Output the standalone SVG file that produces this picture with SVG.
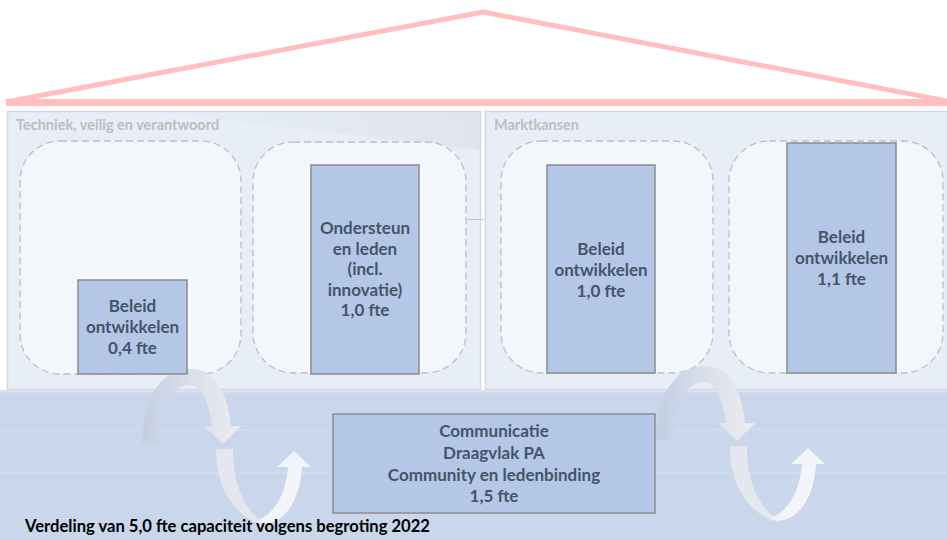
<svg xmlns="http://www.w3.org/2000/svg" width="947" height="539" viewBox="0 0 947 539">
<style>
  text { font-family: Lato, "Liberation Sans", sans-serif; font-weight: bold; }
  .lbl { font-size: 17px; fill: #44546A; text-anchor: middle; }
  .ttl { font-size: 14.5px; fill: #BDBDBD; }
  .panel { fill: #E8EEF8; stroke: #D2D9E4; stroke-width: 1.5; }
  .slot { fill: #F3F6FB; stroke: #BFBFBF; stroke-width: 1.3; stroke-dasharray: 7 4; }
  .box { fill: #B4C7E7; stroke: #8C8C8C; stroke-width: 1.5; }
  .roof { fill: none; stroke: #FFBFBF; }
</style>
<defs>
  <linearGradient id="gArc" x1="0" y1="0" x2="1" y2="0">
    <stop offset="0" stop-color="#C3CEE2"/>
    <stop offset="0.55" stop-color="#DCE1EA"/>
    <stop offset="1" stop-color="#EBECEF"/>
  </linearGradient>
  <linearGradient id="gShade" x1="0" y1="0" x2="1" y2="0">
    <stop offset="0" stop-color="#D8DDE5" stop-opacity="0"/>
    <stop offset="1" stop-color="#D8DDE5" stop-opacity="0.55"/>
  </linearGradient>
  <g id="arrowPair">
    <path fill="url(#gArc)" d="M142,443 C142,400 160,369 191,369 C216,369 228,395 231,426 L241,426 L223,444 L204,426 L212,426 C209,402 201,385 190,385 C172,385 159,410 159,443 Z"/>
    <path fill="#E4E7EE" d="M216,449 L233,449 C233,488 246,512 265,523 L258,524 C233,512 216,488 216,449 Z"/>
    <path fill="#F3F5FA" d="M256,521 C276,514 286,492 288,467 L277,467 L294,451 L311,467 L302,467 C300,500 286,522 264,524 Z"/>
  </g>
</defs>
<rect x="0" y="0" width="947" height="539" fill="#FFFFFF"/>

<g id="roof">
  <polyline class="roof" stroke-width="5" points="6,102 483,12 952,102"/>
  <line class="roof" stroke-width="7" x1="6" y1="102.5" x2="947" y2="102.5"/>
</g>

<g id="band">
  <rect x="0" y="391" width="947" height="148" fill="#C9D6EC"/>
  <rect x="0" y="390" width="947" height="2.5" fill="#DCE1EA"/>
  <line x1="0" y1="430" x2="947" y2="430" stroke="#D3DDEF" stroke-width="1.5"/>
  <line x1="0" y1="473" x2="947" y2="473" stroke="#D3DDEF" stroke-width="1.5"/>
</g>

<g id="panel-techniek">
  <rect class="panel" x="7.5" y="111.5" width="473" height="278"/>
  <polygon points="150,112 480,112 480,150" fill="url(#gShade)"/>
  <text class="ttl" x="16" y="130">Techniek, veilig en verantwoord</text>
</g>
<g id="panel-marktkansen">
  <rect class="panel" x="485.5" y="111.5" width="462" height="278"/>
  <text class="ttl" x="494" y="130">Marktkansen</text>
</g>
<line x1="467" y1="219.5" x2="486" y2="219.5" stroke="#B9C8E0" stroke-width="1"/>

<g id="slots">
  <rect class="slot" x="20" y="141" width="221" height="233" rx="40"/>
  <rect class="slot" x="253" y="142" width="213" height="231" rx="40"/>
  <rect class="slot" x="501" y="141" width="212" height="232" rx="40"/>
  <rect class="slot" x="729" y="141" width="214" height="232" rx="40"/>
</g>

<g id="connectors">
  <use href="#arrowPair"/>
  <use href="#arrowPair" transform="translate(514,-3)"/>
</g>

<g id="node-beleid-04">
  <rect class="box" x="78" y="280" width="109" height="94"/>
  <text class="lbl" x="132.5" y="312">Beleid</text>
  <text class="lbl" x="132.5" y="333">ontwikkelen</text>
  <text class="lbl" x="132.5" y="354">0,4 fte</text>
</g>
<g id="node-ondersteun">
  <rect class="box" x="311" y="165" width="108" height="209"/>
  <text class="lbl" x="365" y="234">Ondersteun</text>
  <text class="lbl" x="365" y="254.5">en leden</text>
  <text class="lbl" x="365" y="275">(incl.</text>
  <text class="lbl" x="365" y="295.5">innovatie)</text>
  <text class="lbl" x="365" y="316">1,0 fte</text>
</g>
<g id="node-beleid-10">
  <rect class="box" x="547" y="165" width="108" height="208"/>
  <text class="lbl" x="601" y="255">Beleid</text>
  <text class="lbl" x="601" y="276">ontwikkelen</text>
  <text class="lbl" x="601" y="297">1,0 fte</text>
</g>
<g id="node-beleid-11">
  <rect class="box" x="787" y="143" width="109" height="230"/>
  <text class="lbl" x="841.5" y="243">Beleid</text>
  <text class="lbl" x="841.5" y="264">ontwikkelen</text>
  <text class="lbl" x="841.5" y="285">1,1 fte</text>
</g>
<g id="node-communicatie">
  <rect class="box" x="333" y="414" width="322" height="99"/>
  <text class="lbl" x="494" y="437">Communicatie</text>
  <text class="lbl" x="494" y="459">Draagvlak PA</text>
  <text class="lbl" x="494" y="481">Community en ledenbinding</text>
  <text class="lbl" x="494" y="502">1,5 fte</text>
</g>

<text x="25" y="532" font-size="16.6" fill="#000000">Verdeling van 5,0 fte capaciteit volgens begroting 2022</text>
</svg>
